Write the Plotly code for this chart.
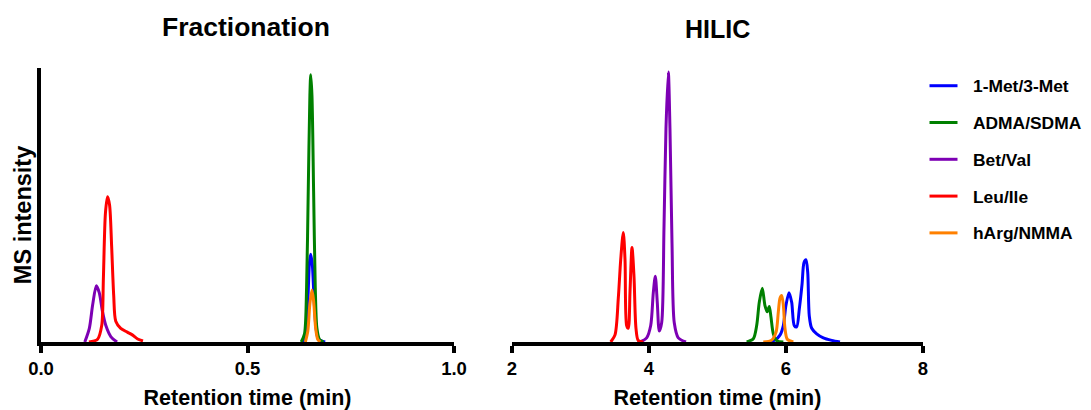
import plotly.graph_objects as go

# ---------------- data ----------------
series_names = ["1-Met/3-Met", "ADMA/SDMA", "Bet/Val", "Leu/Ile", "hArg/NMMA"]
series_colors = ["#0000FF", "#008000", "#7D00B4", "#FF0000", "#FF8000"]

# Fractionation panel (retention time in min, relative MS intensity)
frac_met_t = [0.634, 0.641, 0.646, 0.650, 0.653, 0.657, 0.661, 0.666, 0.672, 0.688]
frac_met_i = [0.0, 0.03, 0.15, 0.29, 0.32, 0.28, 0.16, 0.05, 0.01, 0.0]
frac_adma_t = [0.630, 0.638, 0.643, 0.647, 0.651, 0.653, 0.656, 0.660, 0.664, 0.668, 0.674, 0.684]
frac_adma_i = [0.0, 0.03, 0.20, 0.55, 0.90, 0.975, 0.90, 0.55, 0.20, 0.05, 0.01, 0.0]
frac_bet_t = [0.106, 0.117, 0.125, 0.134, 0.141, 0.149, 0.157, 0.169, 0.184]
frac_bet_i = [0.0, 0.05, 0.135, 0.205, 0.18, 0.11, 0.06, 0.02, 0.0]
frac_leu_t = [0.116, 0.137, 0.147, 0.151, 0.156, 0.161, 0.166, 0.171, 0.176, 0.181,
              0.193, 0.209, 0.221, 0.234, 0.247]
frac_leu_i = [0.0, 0.01, 0.06, 0.23, 0.47, 0.53, 0.50, 0.35, 0.17, 0.076,
              0.05, 0.036, 0.026, 0.011, 0.004]
frac_harg_t = [0.640, 0.646, 0.651, 0.656, 0.660, 0.665, 0.670, 0.676]
frac_harg_i = [0.0, 0.04, 0.14, 0.19, 0.15, 0.05, 0.01, 0.0]

# HILIC panel
hilic_met_t = [5.756, 5.839, 5.912, 5.961, 6.000, 6.044, 6.083, 6.121, 6.156, 6.194,
               6.234, 6.263, 6.292, 6.317, 6.340, 6.375, 6.448, 6.545, 6.667, 6.788]
hilic_met_i = [0.0, 0.007, 0.025, 0.06, 0.135, 0.18, 0.145, 0.06, 0.055, 0.12,
               0.21, 0.29, 0.30, 0.255, 0.095, 0.05, 0.03, 0.015, 0.006, 0.0]
hilic_adma_t = [5.426, 5.523, 5.572, 5.610, 5.654, 5.693, 5.727, 5.756, 5.781, 5.815, 5.864, 5.961]
hilic_adma_i = [0.0, 0.012, 0.06, 0.145, 0.196, 0.133, 0.11, 0.13, 0.09, 0.03, 0.005, 0.0]
hilic_bet_t = [3.869, 3.966, 4.025, 4.063, 4.092, 4.121, 4.150, 4.185, 4.219, 4.248,
               4.282, 4.306, 4.336, 4.369, 4.428, 4.540]
hilic_bet_i = [0.0, 0.015, 0.06, 0.18, 0.24, 0.145, 0.04, 0.07, 0.42, 0.78,
               0.985, 0.78, 0.36, 0.07, 0.015, 0.0]
hilic_leu_t = [3.441, 3.504, 3.552, 3.587, 3.625, 3.650, 3.674, 3.698, 3.723, 3.752,
               3.781, 3.810, 3.844, 3.917]
hilic_leu_i = [0.0, 0.026, 0.16, 0.30, 0.40, 0.30, 0.06, 0.05, 0.185, 0.345,
               0.24, 0.05, 0.005, 0.0]
hilic_harg_t = [5.669, 5.791, 5.854, 5.888, 5.912, 5.937, 5.961, 5.985, 6.019, 6.107]
hilic_harg_i = [0.0, 0.007, 0.035, 0.11, 0.16, 0.17, 0.135, 0.05, 0.01, 0.0]

frac_ticks = [0.0, 0.5, 1.0]
frac_ticktext = ["0.0", "0.5", "1.0"]
hilic_ticks = [2, 4, 6, 8]

frac_data = [(frac_met_t, frac_met_i), (frac_adma_t, frac_adma_i), (frac_bet_t, frac_bet_i),
             (frac_leu_t, frac_leu_i), (frac_harg_t, frac_harg_i)]
hilic_data = [(hilic_met_t, hilic_met_i), (hilic_adma_t, hilic_adma_i), (hilic_bet_t, hilic_bet_i),
              (hilic_leu_t, hilic_leu_i), (hilic_harg_t, hilic_harg_i)]

FONT = "Liberation Sans, Arial, sans-serif"

# ---------------- geometry (figure pixels) ----------------
W, H = 1083, 402          # page body has an 8px default margin
ML, MR, MT, MB = 33, 168, 60, 68.3
PW, PH = W - ML - MR, H - MT - MB


def px_x(p):
    return (p - ML) / PW


def px_y(p):
    return (H - MB - p) / PH


fig = go.Figure()
for k, name in enumerate(series_names):
    t, i = frac_data[k]
    fig.add_trace(go.Scatter(x=t, y=i, mode="lines", name=name, legendgroup=name,
                             line=dict(color=series_colors[k], width=3, shape="spline", smoothing=0.8),
                             xaxis="x", yaxis="y", showlegend=False))
for k, name in enumerate(series_names):
    t, i = hilic_data[k]
    fig.add_trace(go.Scatter(x=t, y=i, mode="lines", name=name, legendgroup=name,
                             line=dict(color=series_colors[k], width=3, shape="spline", smoothing=0.8),
                             xaxis="x2", yaxis="y2", showlegend=False))

axis_common = dict(showline=True, linewidth=4, linecolor="black", showgrid=False, zeroline=False,
                   ticks="outside", ticklen=7, tickwidth=4, tickcolor="black", automargin=False,
                   tickfont=dict(family=FONT, size=18.5, color="black", weight="bold"))
xtitle_font = dict(family=FONT, size=21.5, color="black", weight="bold")

# legend drawn as line samples + text labels
legend_shapes = []
legend_labels = []
for k, name in enumerate(series_names):
    yc = 77.7 + 36.75 * k
    legend_shapes.append(dict(type="line", xref="paper", yref="paper",
                              x0=px_x(921.5), x1=px_x(949.5), y0=px_y(yc), y1=px_y(yc),
                              line=dict(color=series_colors[k], width=3)))
    legend_labels.append(dict(text=name, x=px_x(963), y=px_y(yc + 0.5), xref="paper", yref="paper",
                              showarrow=False, xanchor="left", yanchor="middle",
                              font=dict(family=FONT, size=17.4, color="black", weight="bold")))

fig.update_layout(
    width=W, height=H,
    paper_bgcolor="white", plot_bgcolor="white",
    margin=dict(l=ML, r=MR, t=MT, b=MB, autoexpand=False),
    font=dict(family=FONT, color="black"),
    showlegend=False,
    xaxis=dict(domain=[0, 0.4683], range=[0, 1.0], tickvals=frac_ticks, ticktext=frac_ticktext,
               title=dict(text="Retention time (min)", font=xtitle_font, standoff=14),
               **axis_common),
    xaxis2=dict(domain=[0.534, 1.0], range=[2, 8], tickvals=hilic_ticks, anchor="y2",
                title=dict(text="Retention time (min)", font=xtitle_font, standoff=14),
                **axis_common),
    yaxis=dict(domain=[0, 1], range=[0, 1.0], showline=True, linewidth=4, linecolor="black",
               showgrid=False, zeroline=False, showticklabels=False, ticks="", automargin=False),
    yaxis2=dict(domain=[0, 1], range=[0, 1.0], anchor="x2", showline=False, showgrid=False,
                zeroline=False, showticklabels=False, ticks="", automargin=False),
    shapes=legend_shapes,
    annotations=[
        dict(text="Fractionation", x=0.2325, y=1.15, xref="paper", yref="paper",
             showarrow=False, font=dict(family=FONT, size=26.5, color="black", weight="bold"),
             xanchor="center", yanchor="middle"),
        dict(text="HILIC", x=0.7675, y=1.142, xref="paper", yref="paper",
             showarrow=False, font=dict(family=FONT, size=25, color="black", weight="bold"),
             xanchor="center", yanchor="middle"),
        dict(text="MS intensity", x=-0.0204, y=0.463, xref="paper", yref="paper", textangle=-90,
             showarrow=False, font=dict(family=FONT, size=23.5, color="black", weight="bold"),
             xanchor="center", yanchor="middle"),
    ] + legend_labels,
)

fig.write_html("out.html")
